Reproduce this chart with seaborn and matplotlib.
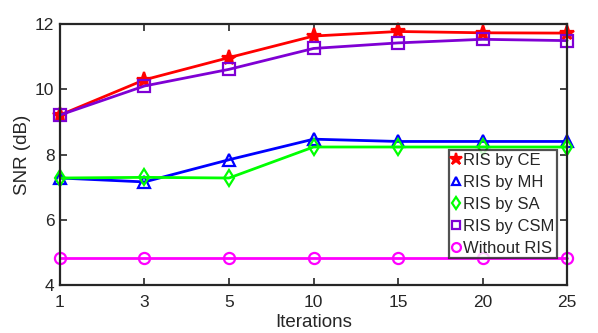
import numpy as np
import pandas as pd
import matplotlib
matplotlib.use('Agg')
import matplotlib.pyplot as plt
import seaborn as sns

# data
iterations = ['1', '3', '5', '10', '15', '20', '25']
snr_ce = [9.21, 10.29, 10.97, 11.63, 11.77, 11.73, 11.72]
snr_mh = [7.28, 7.16, 7.84, 8.47, 8.40, 8.40, 8.40]
snr_sa = [7.28, 7.30, 7.28, 8.23, 8.23, 8.23, 8.23]
snr_csm = [9.21, 10.10, 10.61, 11.25, 11.42, 11.53, 11.49]
snr_none = [4.82, 4.82, 4.82, 4.82, 4.82, 4.82, 4.82]

series = [
    ('RIS by CE', snr_ce, '#FF0000', '*', True),
    ('RIS by MH', snr_mh, '#0000FF', '^', False),
    ('RIS by SA', snr_sa, '#00FF00', 'd', False),
    ('RIS by CSM', snr_csm, '#7F00D4', 's', False),
    ('Without RIS', snr_none, '#FF00FF', 'o', False),
]

sns.set_style('white')
plt.rcParams['font.family'] = ['Liberation Sans', 'DejaVu Sans']

fig = plt.figure(figsize=(5.98, 3.33), dpi=100)
ax = fig.add_axes([0.1003, 0.144, 0.848, 0.784])

pos = np.arange(len(iterations))
for name, vals, color, marker, filled in series:
    df = pd.DataFrame({'pos': pos, 'snr': vals})
    sns.lineplot(data=df, x='pos', y='snr', ax=ax, color=color, marker=marker,
                 markersize=11 if marker == '*' else 8,
                 markerfacecolor=color if filled else 'none',
                 markeredgecolor=color, markeredgewidth=1.6,
                 linewidth=2, label=name, clip_on=False)

ax.set_xlim(0, len(iterations) - 1)
ax.set_ylim(4, 12)
ax.set_xticks(pos)
ax.set_xticklabels(iterations)
ax.set_yticks([4, 6, 8, 10, 12])
ax.set_xlabel('Iterations', fontsize=13.5, labelpad=3)
ax.set_ylabel('SNR (dB)', fontsize=13.5, labelpad=3)
ax.tick_params(direction='in', length=5, width=1.2, labelsize=12.5,
               top=True, right=True, bottom=True, left=True, colors='#262626')
ax.tick_params(axis='x', pad=7)
ax.tick_params(axis='y', pad=4)
for s in ax.spines.values():
    s.set_color('#262626')
    s.set_linewidth(1.6)

leg = ax.legend(loc='upper right', bbox_to_anchor=(0.98, 0.517), fontsize=12,
                handlelength=0.6, handletextpad=0.1, borderpad=0.15,
                labelspacing=0.42, borderaxespad=0, frameon=True, fancybox=False,
                markerscale=0.8)
leg.get_frame().set_edgecolor('#262626')
leg.get_frame().set_linewidth(1.6)
for h in leg.legend_handles:
    h.set_linestyle('none')

fig.savefig('out.png', dpi=100)
